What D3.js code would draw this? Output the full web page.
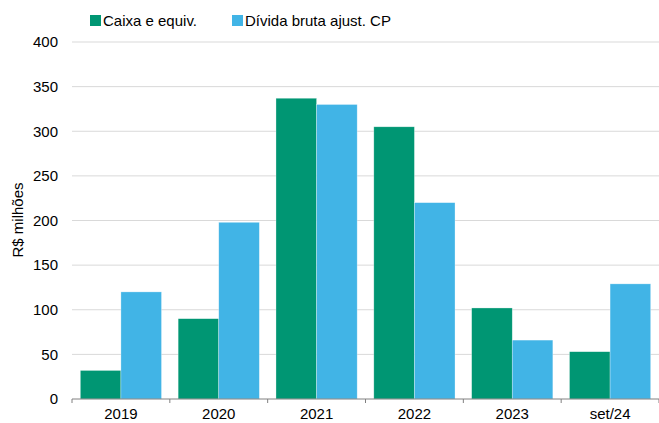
<!DOCTYPE html>
<html>
<head>
<meta charset="utf-8">
<script src="https://cdn.jsdelivr.net/npm/d3@7"></script>
<style>
  body { margin: 0; background: #fff; }
  text { font-family: "Liberation Sans", Arial, sans-serif; fill: #000; }
</style>
</head>
<body>
<div id="chart"></div>
<script>
let categories = ['2019', '2020', '2021', '2022', '2023', 'set/24']
let seriesNames = ['Caixa e equiv.', 'Dívida bruta ajust. CP']
let caixa = [32, 90, 337, 305, 102, 53]
let divida = [120, 198, 330, 220, 66, 129]
let yTicks = [0, 50, 100, 150, 200, 250, 300, 350, 400]

let margin = { top: 42, left: 72, right: 0, bottom: 24 }
let width = 659 - margin.left - margin.right
let height = 423 - margin.top - margin.bottom

let fontSize = 15

let svg = d3.select('#chart')
  .append('svg')
  .attr('width', 659)
  .attr('height', 423)

let g = svg.append('g')
  .attr('transform', `translate(${margin.left},${margin.top})`)

let xScale = d3.scaleBand()
  .domain(categories)
  .range([0, width])
  .paddingInner(0.17)
  .paddingOuter(0.085)

let xSub = d3.scaleBand()
  .domain(seriesNames)
  .range([0, xScale.bandwidth()])

let yScale = d3.scaleLinear()
  .domain([0, 400])
  .range([height, 0])

let colorScale = d3.scaleOrdinal()
  .domain(seriesNames)
  .range(['#009673', '#41b4e6'])

// gridlines
g.selectAll('.grid')
  .data(yTicks.filter(d => d > 0))
  .enter()
  .append('line')
  .attr('x1', 0)
  .attr('x2', width)
  .attr('y1', d => yScale(d))
  .attr('y2', d => yScale(d))
  .attr('stroke', '#d9d9d9')
  .attr('stroke-width', 1)

// y labels
g.selectAll('.ylab')
  .data(yTicks)
  .enter()
  .append('text')
  .attr('x', -14)
  .attr('y', d => yScale(d))
  .attr('dy', '0.35em')
  .attr('text-anchor', 'end')
  .attr('font-size', fontSize)
  .text(d => d)

let rows = categories.map((c, i) => ({ cat: c, values: [caixa[i], divida[i]] }))

g.selectAll('.group')
  .data(rows)
  .enter()
  .append('g')
  .attr('transform', d => `translate(${xScale(d.cat)},0)`)
  .selectAll('rect')
  .data(d => d.values.map((v, j) => ({ key: seriesNames[j], value: v })))
  .enter()
  .append('rect')
  .attr('x', d => xSub(d.key))
  .attr('width', xSub.bandwidth())
  .attr('y', d => yScale(d.value))
  .attr('height', d => height - yScale(d.value))
  .attr('fill', d => colorScale(d.key))
  .attr('stroke', '#ffffff')
  .attr('stroke-opacity', 0.5)
  .attr('stroke-width', 0.6)

// x axis
let xAxis = g.append('g')
  .attr('transform', `translate(0,${height})`)
xAxis.append('line')
  .attr('x1', 0).attr('x2', width)
  .attr('y1', 0).attr('y2', 0)
  .attr('stroke', '#808080')
let step = xScale.step()
let bounds = d3.range(categories.length + 1).map(i => i * step)
xAxis.selectAll('.tick')
  .data(bounds)
  .enter()
  .append('line')
  .attr('x1', d => d).attr('x2', d => d)
  .attr('y1', 0).attr('y2', 4)
  .attr('stroke', '#808080')
xAxis.selectAll('.xlab')
  .data(categories)
  .enter()
  .append('text')
  .attr('x', d => xScale(d) + xScale.bandwidth() / 2)
  .attr('y', 20)
  .attr('text-anchor', 'middle')
  .attr('font-size', fontSize)
  .text(d => d)

// y axis title
svg.append('text')
  .attr('transform', 'translate(23,220) rotate(-90)')
  .attr('text-anchor', 'middle')
  .attr('font-size', fontSize)
  .text('R$ milhões')

// legend
let legendX = [90, 232]
let legend = svg.selectAll('.legend')
  .data(seriesNames)
  .enter()
  .append('g')
  .attr('transform', (d, i) => `translate(${legendX[i]},15)`)
legend.append('rect')
  .attr('width', 11)
  .attr('height', 11)
  .attr('fill', d => colorScale(d))
legend.append('text')
  .attr('x', 13)
  .attr('y', 5.5)
  .attr('dy', '0.35em')
  .attr('font-size', fontSize)
  .text(d => d)
</script>
</body>
</html>
